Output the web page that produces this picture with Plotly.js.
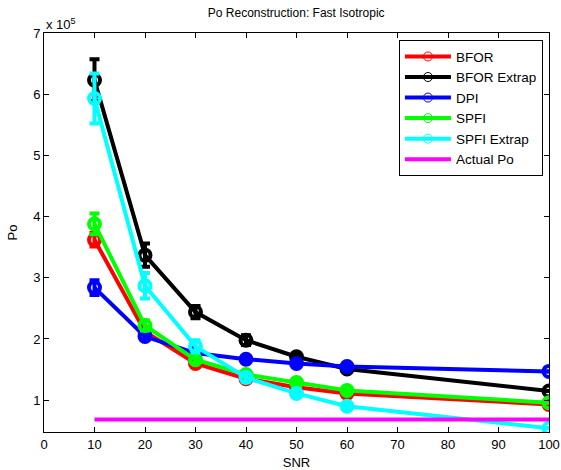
<!DOCTYPE html>
<html>
<head>
<meta charset="utf-8">
<script src="https://cdn.plot.ly/plotly-3.0.1.min.js"></script>
<style>html,body{margin:0;padding:0;background:#fff;}#chart{width:561px;height:470px;}</style>
</head>
<body>
<div id="chart"></div>
<script>
// Data (Po values in units of 1e5)
const SCALE = 1e5;
const snr = [10, 20, 30, 40, 50, 60, 100];
const bfor = [3.62, 2.12, 1.60, 1.35, 1.21, 1.11, 0.93];
const bforErr = [0.11, 0.08, 0.05, 0.04, 0.04, 0.04, 0.0];
const bforExtrap = [6.23, 3.37, 2.44, 1.98, 1.71, 1.51, 1.15];
const bforExtrapErr = [0.34, 0.19, 0.10, 0.08, 0.05, 0.05, 0.0];
const dpi = [2.84, 2.04, 1.77, 1.67, 1.60, 1.55, 1.47];
const dpiErr = [0.12, 0.05, 0.04, 0.04, 0.04, 0.04, 0.0];
const spfi = [3.88, 2.22, 1.66, 1.42, 1.29, 1.16, 0.96];
const spfiErr = [0.17, 0.08, 0.05, 0.04, 0.04, 0.04, 0.0];
const spfiExtrap = [5.93, 2.87, 1.88, 1.37, 1.11, 0.90, 0.54];
const spfiExtrapErr = [0.41, 0.21, 0.10, 0.07, 0.06, 0.05, 0.0];
const actualPo = [0.685, 0.685, 0.685, 0.685, 0.685, 0.685, 0.685];
const yTickVals = [1, 2, 3, 4, 5, 6, 7];
const yTickText = ['1', '2', '3', '4', '5', '6', '7'];
const xTickVals = [0, 10, 20, 30, 40, 50, 60, 70, 80, 90, 100];

const series = [
  {name: 'BFOR', y: bfor, err: bforErr, color: '#ff0000'},
  {name: 'BFOR Extrap', y: bforExtrap, err: bforExtrapErr, color: '#000000'},
  {name: 'DPI', y: dpi, err: dpiErr, color: '#0000ff'},
  {name: 'SPFI', y: spfi, err: spfiErr, color: '#00ff00'},
  {name: 'SPFI Extrap', y: spfiExtrap, err: spfiExtrapErr, color: '#00ffff'}
];

const traces = [];
series.forEach(s => {
  traces.push({
    x: snr, y: s.y.map(v => v * SCALE), type: 'scatter', mode: 'lines+markers',
    name: s.name, showlegend: false,
    line: {color: s.color, width: 4},
    marker: {symbol: 'circle-open', size: 11, color: s.color, line: {color: s.color, width: 4}},
    error_y: {type: 'data', array: s.err.map(v => v * SCALE), visible: true, color: s.color, thickness: 4, width: 5}
  });
});
traces.push({
  x: snr, y: actualPo.map(v => v * SCALE), type: 'scatter', mode: 'lines',
  name: 'Actual Po', showlegend: false, line: {color: '#ff00ff', width: 4}
});
// legend entries
series.forEach(s => {
  traces.push({
    x: [null], y: [null], type: 'scatter', mode: 'lines+markers', name: s.name,
    line: {color: s.color, width: 4},
    marker: {symbol: 'circle-open', size: 9, color: s.color, line: {color: s.color, width: 1}}
  });
});
traces.push({x: [null], y: [null], type: 'scatter', mode: 'lines', name: 'Actual Po',
  line: {color: '#ff00ff', width: 4}});

const font = {family: '"Liberation Sans", Arial, Helvetica, sans-serif', color: '#000'};
const axisCommon = {
  showline: true, linecolor: '#000', linewidth: 1, mirror: 'ticks',
  ticks: 'inside', ticklen: 5, tickcolor: '#000', tickwidth: 1,
  showgrid: false, zeroline: false, tickfont: Object.assign({size: 13}, font)
};

const layout = {
  width: 561, height: 470,
  margin: {l: 44, r: 12, t: 33, b: 38},
  paper_bgcolor: '#fff', plot_bgcolor: '#fff',
  font: Object.assign({size: 13}, font),
  title: {text: 'Po Reconstruction: Fast Isotropic', font: Object.assign({size: 12}, font),
          x: 0.528, xanchor: 'center', y: 0.972, yanchor: 'middle'},
  xaxis: Object.assign({}, axisCommon, {
    range: [0, 100], tickvals: xTickVals,
    title: {text: 'SNR', font: Object.assign({size: 13}, font), standoff: 7}
  }),
  yaxis: Object.assign({}, axisCommon, {
    range: [0.48 * SCALE, 7 * SCALE],
    tickvals: yTickVals.map(v => v * SCALE), ticktext: yTickText,
    title: {text: 'Po', font: Object.assign({size: 13}, font), standoff: 12}
  }),
  legend: {
    x: 0.988, xanchor: 'right', y: 0.982, yanchor: 'top',
    bgcolor: '#fff', bordercolor: '#000', borderwidth: 1,
    font: Object.assign({size: 13.5}, font), tracegroupgap: 0, itemwidth: 46
  },
  annotations: [{
    text: 'x 10<sup>5</sup>', xref: 'paper', yref: 'paper', x: 0, y: 1,
    xanchor: 'left', yanchor: 'bottom', showarrow: false, yshift: -1,
    font: Object.assign({size: 13}, font)
  }]
};

Plotly.newPlot('chart', traces, layout, {displayModeBar: false, staticPlot: true});
</script>
</body>
</html>
